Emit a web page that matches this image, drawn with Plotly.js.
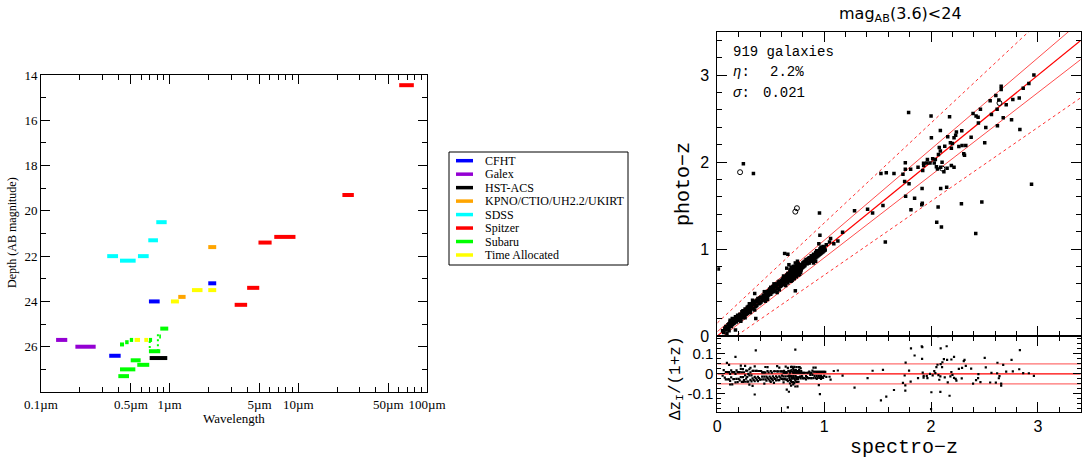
<!DOCTYPE html>
<html><head><meta charset="utf-8">
<script src="https://cdn.plot.ly/plotly-3.0.1.min.js"></script>
<style>html,body{margin:0;padding:0;background:#fff;} #chart{width:1086px;height:461px;}</style>
</head><body><div id="chart"></div>
<script>
// ---------- Left panel: survey depth per band ----------
const instruments = ['CFHT','Galex','HST-ACS','KPNO/CTIO/UH2.2/UKIRT','SDSS','Spitzer','Subaru','Time Allocated'];
const instrumentColors = ['#0000ff','#9400d3','#000000','#ffa500','#00ffff','#ff0000','#00ff00','#ffff00'];
const bandInstrument = [0,0,0, 1,1, 2, 3,3, 4,4,4,4,4, 5,5,5,5,5,5, 6,6,6,6,6,6,6,6,6,6,6, 7,7,7,7,7];
const bandLamMin = [0.339,0.69,1.995, 0.131,0.185, 0.699, 1.166,1.995, 0.327,0.411,0.567,0.682,0.787,
  3.2,4.0,4.9,6.5,22,60.8, 0.399,0.411,0.498,0.56,0.69,0.845,0.411,0.451,0.49,0.69,0.83,
  1.023,1.49,1.995,0.534,0.635];
const bandLamMax = [0.416,0.836,2.3, 0.160,0.266, 0.958, 1.33,2.3, 0.397,0.544,0.687,0.811,0.948,
  4.0,4.97,6.2,9.5,27,79, 0.483,0.541,0.595,0.694,0.845,0.975,0.442,0.48,0.52,0.73,0.855,
  1.18,1.80,2.3,0.588,0.68];
const bandDepth = [26.4,24.0,23.2, 25.7,26.0, 26.5, 23.8,21.6, 22.0,22.2,22.0,21.3,20.5,
  24.15,23.4,21.4,21.15,19.3,14.45, 27.3,27.0,26.6,26.8,26.2,25.2,25.9,25.8,25.7,25.7,25.55,
  24.0,23.5,23.5,25.7,25.7];
// short dotted Subaru connectors (wavelength, top depth, bottom depth)
const subaruLinkLam = [0.70, 0.81];
const subaruLinkTop = [25.75, 25.45];
const subaruLinkBottom = [26.15, 26.15];
const lamTickVals = [0.1,0.5,1,5,10,50,100];
const lamTickText = ['0.1µm','0.5µm','1µm','5µm','10µm','50µm','100µm'];
const lamMinorVals = [0.2,0.3,0.4,0.6,0.7,0.8,0.9,2,3,4,6,7,8,9,20,30,40,60,70,80,90];
const depthTickVals = [14,16,18,20,22,24,26];
const depthMinorVals = [15,17,19,21,23,25,27];

// ---------- Right panel: photo-z vs spectro-z ----------
const specZ = [
 0.05,0.06,0.07,0.08,0.08,0.09,0.10,0.10,0.11,0.11,0.12,0.12,0.13,0.13,0.14,0.14,0.15,0.15,0.16,0.16,
 0.17,0.17,0.18,0.18,0.19,0.19,0.20,0.20,0.12,0.09,0.17,0.11,
 0.21,0.21,0.22,0.22,0.23,0.23,0.24,0.24,0.25,0.25,0.26,0.26,0.27,0.27,0.28,0.28,0.29,0.29,0.30,0.30,
 0.31,0.31,0.32,0.32,0.33,0.33,0.34,0.34,0.35,0.35,0.36,0.36,0.37,0.37,0.38,0.38,0.39,0.39,0.40,0.40,
 0.26,0.30,0.35,0.22,0.33,0.36,0.35,0.24,0.31,0.28,
 0.41,0.41,0.42,0.42,0.43,0.43,0.44,0.44,0.45,0.45,0.46,0.46,0.47,0.47,0.48,0.48,0.49,0.49,0.50,0.50,
 0.51,0.51,0.52,0.52,0.53,0.53,0.54,0.54,0.55,0.55,0.56,0.56,0.57,0.57,0.58,0.58,0.59,0.59,0.60,0.60,
 0.47,0.53,0.56,0.44,0.58,0.50,0.45,
 0.61,0.61,0.62,0.62,0.63,0.63,0.64,0.64,0.65,0.65,0.66,0.66,0.67,0.67,0.68,0.68,0.69,0.69,0.70,0.70,
 0.70,0.71,0.71,0.71,0.72,0.72,0.72,0.73,0.73,0.73,0.74,0.74,0.74,0.75,0.75,0.75,0.76,0.76,0.76,0.77,
 0.77,0.78,0.78,0.79,0.79,0.80,0.80,0.81,0.81,0.82,0.82,0.83,0.83,0.84,0.84,0.85,0.85,
 0.66,0.69,0.72,0.70,0.74,0.77,0.68,0.71,0.75,0.73,0.66,0.63,0.65,0.67,0.62,0.64,0.69,0.71,0.73,0.76,0.78,
 0.605,0.615,0.625,0.635,0.645,0.655,0.665,0.675,0.685,0.695,0.705,0.715,0.725,0.735,0.745,0.755,0.765,0.775,0.785,0.795,
 0.705,0.715,0.725,0.735,0.745,0.695,0.685,0.675,0.755,0.765,
 0.86,0.86,0.87,0.87,0.88,0.88,0.89,0.89,0.90,0.90,0.91,0.91,0.92,0.92,0.93,0.93,0.94,0.94,0.95,0.95,
 0.96,0.96,0.97,0.97,0.98,0.98,0.99,0.99,1.00,1.00,0.96,0.92,0.95,0.90,1.02,1.05,1.01,0.97,0.93,0.88,
 2.962,2.915,2.862,2.825,2.765,2.831,2.753,2.703,2.675,2.656,2.656,2.606,2.634,2.618,2.553,2.565,2.621,2.502,2.512,2.443,
 2.462,2.393,2.421,2.44,2.375,2.287,2.237,2.23,2.215,2.173,2.0,1.79,2.087,2.003,2.156,2.181,2.2,2.325,2.29,2.26,
 2.19,2.128,2.077,2.087,2.069,2.103,2.015,1.966,1.96,1.93,1.99,2.04,2.03,2.215,2.306,2.313,1.759,1.531,1.581,1.653,
 1.737,1.759,1.809,1.878,1.922,1.931,2.05,2.06,2.09,2.12,2.15,2.19,1.753,1.794,1.55,1.762,1.846,1.812,1.916,1.918,
 1.913,2.09,2.146,2.066,2.053,2.097,2.284,2.475,2.418,2.94,1.572,1.406,1.453,1.284,1.172,1.128,1.09,1.06,
 0.01,0.244,0.338,0.956
];
const photoZ = [
 0.06,0.04,0.09,0.07,0.11,0.08,0.13,0.09,0.14,0.10,0.12,0.16,0.11,0.15,0.13,0.20,0.14,0.18,0.19,0.15,
 0.17,0.22,0.16,0.21,0.24,0.18,0.23,0.19,0.18,0.03,0.07,0.06,
 0.25,0.20,0.24,0.19,0.22,0.28,0.26,0.21,0.29,0.24,0.27,0.31,0.25,0.30,0.30,0.26,0.29,0.34,0.31,0.27,
 0.35,0.30,0.33,0.37,0.31,0.36,0.38,0.32,0.37,0.40,0.34,0.39,0.41,0.35,0.40,0.43,0.37,0.42,0.44,0.38,
 0.21,0.37,0.30,0.17,0.41,0.20,0.49,0.29,0.27,0.33,
 0.45,0.39,0.44,0.41,0.47,0.42,0.46,0.43,0.49,0.44,0.48,0.51,0.45,0.50,0.52,0.47,0.51,0.54,0.48,0.53,
 0.55,0.50,0.54,0.57,0.51,0.56,0.58,0.52,0.57,0.60,0.54,0.59,0.62,0.55,0.60,0.63,0.57,0.62,0.64,0.58,
 0.42,0.60,0.50,0.51,0.53,0.56,0.40,
 0.65,0.59,0.64,0.61,0.67,0.62,0.66,0.63,0.70,0.64,0.68,0.72,0.69,0.65,0.73,0.67,0.71,0.75,0.74,0.68,
 0.77,0.73,0.70,0.78,0.76,0.71,0.80,0.75,0.72,0.79,0.77,0.73,0.81,0.78,0.74,0.82,0.79,0.75,0.83,0.80,
 0.76,0.82,0.77,0.81,0.78,0.84,0.79,0.85,0.80,0.86,0.81,0.85,0.88,0.87,0.83,0.89,0.84,
 0.61,0.63,0.66,0.64,0.68,0.71,0.76,0.80,0.86,0.52,0.94,0.95,0.78,0.82,0.69,0.58,0.79,0.66,0.84,0.70,0.73,
 0.62,0.66,0.60,0.68,0.63,0.70,0.64,0.71,0.66,0.73,0.69,0.75,0.70,0.76,0.72,0.79,0.74,0.80,0.76,0.82,
 0.74,0.68,0.77,0.70,0.79,0.66,0.74,0.69,0.80,0.73,
 0.90,0.84,0.88,0.86,0.92,0.87,0.90,0.86,0.94,0.88,0.93,0.89,0.96,0.90,0.95,0.91,0.98,0.92,0.97,0.93,
 1.00,0.94,0.99,1.02,1.01,0.96,1.03,0.97,1.02,0.98,1.16,0.86,1.06,0.84,1.05,1.08,0.99,0.95,0.98,0.92,
 3.002,2.903,2.849,2.737,2.719,2.376,2.488,2.661,2.511,2.872,2.834,2.765,2.714,2.607,2.707,2.549,2.419,2.222,2.399,2.449,
 2.607,2.56,2.53,2.515,2.287,2.361,2.346,2.31,2.28,2.522,2.53,2.572,2.365,2.28,2.292,2.222,2.215,2.191,2.19,2.18,
 2.16,2.183,2.168,2.127,2.088,1.999,2.038,2.03,1.99,1.986,1.99,2.03,1.99,1.941,2.095,2.08,1.992,1.868,1.877,1.868,
 1.861,1.918,1.918,1.941,1.903,1.961,1.946,1.92,1.94,1.89,1.93,1.96,1.776,1.75,1.5,1.607,1.584,1.453,1.696,1.526,
 1.51,1.696,1.71,1.484,1.307,1.253,1.522,1.542,1.18,1.745,1.081,1.457,1.415,1.442,1.192,1.092,1.06,1.12,
 0.77,1.98,1.868,1.415
];
// galaxies drawn as open circles
const openSpecZ = [0.213,0.73,0.745,2.64,2.106];
const openPhotoZ = [1.884,1.43,1.47,2.68,1.925];
const nGalaxies = 919, etaPct = '2.2%', sigmaVal = '0.021';
const sigmaCut = 0.05, outlierCut = 0.15;
const zMax = 3.4, photoMax = 3.5, residMax = 0.19;

// ---------- geometry helpers ----------
const W = 1086, H = 461;
const px = x => x / W, py = y => 1 - y / H;

const traces = [];
instruments.forEach((name, k) => {
  const xs = [], ys = [];
  bandInstrument.forEach((bi, j) => {
    if (bi === k) { xs.push(bandLamMin[j], bandLamMax[j], null); ys.push(bandDepth[j], bandDepth[j], null); }
  });
  traces.push({type:'scatter', mode:'lines', x:xs, y:ys, xaxis:'x', yaxis:'y',
    line:{color:instrumentColors[k], width:4}, hoverinfo:'skip', name:name});
});
{
  const xs = [], ys = [];
  subaruLinkLam.forEach((l, j) => { xs.push(l, l, null); ys.push(subaruLinkTop[j], subaruLinkBottom[j], null); });
  traces.push({type:'scatter', mode:'lines', x:xs, y:ys, xaxis:'x', yaxis:'y',
    line:{color:instrumentColors[6], width:2, dash:'2px,3px'}, hoverinfo:'skip'});
}

// reference lines on top panel
const lineX = [0, zMax];
const refLine = (f, dash, width, color) => ({type:'scatter', mode:'lines', x:lineX, y:lineX.map(z => z + f*(1+z)),
  xaxis:'x2', yaxis:'y2', line:{color:color, width:width, dash:dash}, hoverinfo:'skip'});
traces.push(refLine(outlierCut, 'dot', 1, '#ff3030'));
traces.push(refLine(-outlierCut, 'dot', 1, '#ff3030'));
traces.push(refLine(sigmaCut, 'solid', 0.8, '#ff2020'));
traces.push(refLine(-sigmaCut, 'solid', 0.8, '#ff2020'));
traces.push(refLine(0, 'solid', 1.2, '#ff0000'));

traces.push({type:'scatter', mode:'markers', x:specZ, y:photoZ, xaxis:'x2', yaxis:'y2',
  marker:{symbol:'square', size:3.5, color:'#000'}, hoverinfo:'skip'});
traces.push({type:'scatter', mode:'markers', x:openSpecZ, y:openPhotoZ, xaxis:'x2', yaxis:'y2',
  marker:{symbol:'circle-open', size:5, color:'#000', line:{width:1}}, hoverinfo:'skip'});

// residual panel: (z_spec - z_phot)/(1+z_spec)
const allS = specZ.concat(openSpecZ), allP = photoZ.concat(openPhotoZ);
const resid = allS.map((s, i) => (s - allP[i]) / (1 + s));
[[sigmaCut,'#ff7070',1.3],[-sigmaCut,'#ff7070',1.3],[0,'#ff0000',1.2]].forEach(([v,c,w]) => {
  traces.push({type:'scatter', mode:'lines', x:lineX, y:[v,v], xaxis:'x3', yaxis:'y3',
    line:{color:c, width:w}, hoverinfo:'skip'});
});
traces.push({type:'scatter', mode:'markers', x:allS, y:resid, xaxis:'x3', yaxis:'y3',
  marker:{symbol:'square', size:2.2, color:'#000'}, hoverinfo:'skip'});

// ---------- layout ----------
const serif = 'Liberation Serif, Times New Roman, serif';
const sans = 'Liberation Sans, Arial, sans-serif';
const mono = 'Liberation Mono, DejaVu Sans Mono, monospace';
const axBase = {showline:true, linecolor:'#000', linewidth:1, mirror:'ticks', ticks:'inside',
  tickcolor:'#000', showgrid:false, zeroline:false, fixedrange:true};

const shapes = [], annotations = [];
// legend (drawn by hand to match the compact spacing)
shapes.push({type:'rect', xref:'paper', yref:'paper', x0:px(449), x1:px(628), y0:py(265), y1:py(152),
  line:{color:'#000', width:1}, fillcolor:'#fff', layer:'above'});
instruments.forEach((name, k) => {
  const yc = 160.7 + k*13.47;
  shapes.push({type:'line', xref:'paper', yref:'paper', x0:px(456), x1:px(473), y0:py(yc), y1:py(yc),
    line:{color:instrumentColors[k], width:3.5}, layer:'above'});
  annotations.push({xref:'paper', yref:'paper', x:px(483), y:py(yc), xanchor:'left', yanchor:'middle',
    text:name, showarrow:false, font:{family:serif, size:12, color:'#000'}});
});
// axis titles
annotations.push({xref:'paper', yref:'paper', x:px(12), y:py(233), textangle:-90, text:'Depth (AB magnitude)',
  showarrow:false, font:{family:serif, size:12, color:'#000'}, xanchor:'center', yanchor:'middle'});
annotations.push({xref:'paper', yref:'paper', x:px(234), y:py(418), text:'Wavelength',
  showarrow:false, font:{family:serif, size:13, color:'#000'}, xanchor:'center', yanchor:'middle'});
annotations.push({xref:'paper', yref:'paper', x:px(900), y:py(14), text:'mag<sub>AB</sub>(3.6)<24',
  showarrow:false, font:{family:'DejaVu Sans, sans-serif', size:16, color:'#000'}, xanchor:'center', yanchor:'middle'});
annotations.push({xref:'paper', yref:'paper', x:px(683), y:py(184), textangle:-90, text:'photo−z',
  showarrow:false, font:{family:mono, size:20, color:'#000'}, xanchor:'center', yanchor:'middle'});
annotations.push({xref:'paper', yref:'paper', x:px(904), y:py(447), text:'spectro−z',
  showarrow:false, font:{family:mono, size:20, color:'#000'}, xanchor:'center', yanchor:'middle'});
annotations.push({xref:'paper', yref:'paper', x:px(676), y:py(378), textangle:-90, text:'Δz<sub>I</sub>/(1+z)',
  showarrow:false, font:{family:mono, size:16, color:'#000'}, xanchor:'center', yanchor:'middle'});
// statistics
const statFont = {family:mono, size:14, color:'#000'};
annotations.push({xref:'paper', yref:'paper', x:px(731), y:py(52), text:nGalaxies + ' galaxies',
  showarrow:false, font:statFont, xanchor:'left', yanchor:'middle'});
annotations.push({xref:'paper', yref:'paper', x:px(731), y:py(72), text:'<i>η</i>:',
  showarrow:false, font:statFont, xanchor:'left', yanchor:'middle'});
annotations.push({xref:'paper', yref:'paper', x:px(768), y:py(72), text:etaPct,
  showarrow:false, font:statFont, xanchor:'left', yanchor:'middle'});
annotations.push({xref:'paper', yref:'paper', x:px(731), y:py(93), text:'<i>σ</i>:',
  showarrow:false, font:statFont, xanchor:'left', yanchor:'middle'});
annotations.push({xref:'paper', yref:'paper', x:px(761), y:py(93), text:sigmaVal,
  showarrow:false, font:statFont, xanchor:'left', yanchor:'middle'});

const layout = {
  width:W, height:H, margin:{l:0, r:0, t:0, b:0}, paper_bgcolor:'#fff', plot_bgcolor:'#fff',
  showlegend:false, hovermode:false,
  xaxis: Object.assign({}, axBase, {domain:[px(41), px(427)], anchor:'y', type:'log', range:[-1, 2],
    tickmode:'array', tickvals:lamTickVals, ticktext:lamTickText, ticklen:9,
    tickfont:{family:serif, size:13, color:'#000'},
    minor:{tickmode:'array', tickvals:lamMinorVals, ticklen:5, ticks:'inside', tickcolor:'#000'}}),
  yaxis: Object.assign({}, axBase, {domain:[py(392), py(75)], anchor:'x', range:[28, 14],
    tickmode:'array', tickvals:depthTickVals, ticklen:9, tickfont:{family:serif, size:13, color:'#000'},
    minor:{tickmode:'array', tickvals:depthMinorVals, ticklen:5, ticks:'inside', tickcolor:'#000'}}),
  xaxis2: Object.assign({}, axBase, {domain:[px(717.3), px(1080.7)], anchor:'y2', range:[0, zMax],
    dtick:1, tick0:0, ticklen:10, showticklabels:false,
    minor:{dtick:0.2, ticklen:5, ticks:'inside', tickcolor:'#000'}}),
  yaxis2: Object.assign({}, axBase, {domain:[py(336), py(31.7)], anchor:'x2', range:[0, photoMax],
    dtick:1, tick0:0, ticklen:10, ticklabelstandoff:4, tickfont:{family:sans, size:16, color:'#000'},
    minor:{dtick:0.2, ticklen:5, ticks:'inside', tickcolor:'#000'}}),
  xaxis3: Object.assign({}, axBase, {domain:[px(717.3), px(1080.7)], anchor:'y3', range:[0, zMax],
    dtick:1, tick0:0, ticklen:10, tickfont:{family:sans, size:16, color:'#000'},
    minor:{dtick:0.2, ticklen:5, ticks:'inside', tickcolor:'#000'}}),
  yaxis3: Object.assign({}, axBase, {domain:[py(411.7), py(336)], anchor:'x3', range:[-residMax, residMax],
    tickmode:'array', tickvals:[-0.1, 0, 0.1], ticktext:['-0.1','0','0.1'], ticklen:8,
    tickfont:{family:sans, size:15, color:'#000'},
    minor:{tickmode:'array', tickvals:[-0.175,-0.15,-0.125,-0.075,-0.05,-0.025,0.025,0.05,0.075,0.125,0.15,0.175], ticklen:4, ticks:'inside', tickcolor:'#000'}}),
  shapes: shapes, annotations: annotations
};
Plotly.newPlot('chart', traces, layout, {displayModeBar:false, staticPlot:true});
</script>
</body></html>
